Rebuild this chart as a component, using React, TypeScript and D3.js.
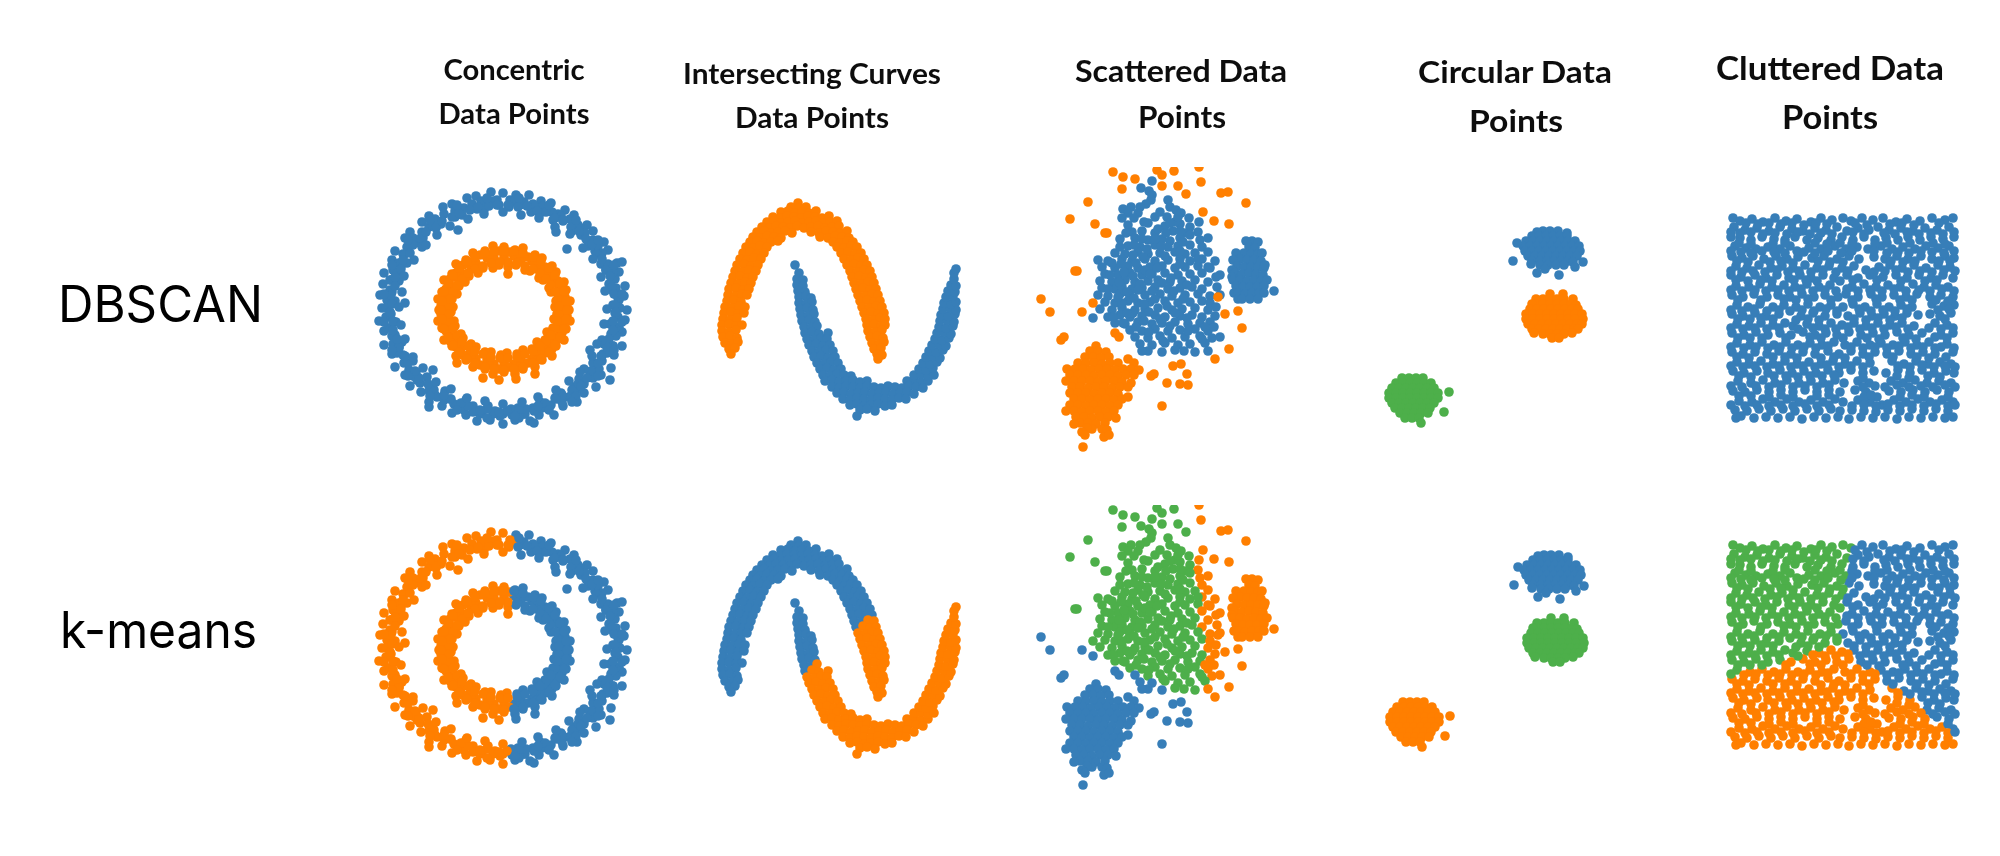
import * as d3 from "d3";

type Pt = [number, number];

const W = 2000;
const H = 856;
const BLUE = "#377eb8";
const ORANGE = "#ff7f00";
const GREEN = "#4daf4a";
const R = 4.8;

// values, each panel in its own units
const ringOuter: Pt[] = [
  [128,5],[141,7],[154,7],[166,13],[176,15],[190,22],[199,27],[212,37],[218,43],[229,54],[233,62],[242,75],[244,84],[250,98],[249,108],[252,122],
  [250,132],[247,144],[247,158],[239,167],[236,180],[226,187],[221,199],[209,205],[202,214],[188,218],[179,227],[164,227],[155,233],[140,232],[128,236],
  [115,232],[102,233],[91,227],[77,225],[67,218],[54,214],[46,204],[35,198],[30,187],[20,179],[17,166],[9,157],[9,143],[4,133],[7,120],[5,107],[8,96],[9,85],[17,72],
  [20,63],[30,50],[35,44],[47,34],[54,28],[68,19],[77,16],[92,10],[101,8],[116,4],
  [134,19],[145,17],[156,24],[167,24],[178,32],[188,33],[197,43],[206,47],[213,58],[220,63],[226,76],[231,82],[234,96],[237,102],[238,117],
  [240,125],[235,136],[236,146],[229,156],[228,166],[218,175],[215,184],[204,191],[199,199],[186,205],[180,210],[165,214],[158,220],[143,220],[136,221],
  [120,223],[113,218],[98,218],[91,212],[76,211],[70,203],[57,199],[52,189],[41,185],[38,173],[28,167],[27,154],[20,147],[21,134],[16,126],
  [20,113],[17,104],[24,93],[23,84],[32,75],[28,66],[45,55],[48,50],[61,40],[66,36],[80,29],[87,27],[102,21],[109,22],[124,17],
  [122,12],[135,12],[149,14],[161,19],[183,26],[205,40],[224,65],[237,88],[243,110],[244,140],[238,158],[222,183],[194,209],[172,220],[150,226],[125,228],[105,226],
  [84,219],[60,207],[42,192],[24,160],[13,140],[12,112],[16,92],[27,76],[38,55],[58,35],[84,20],[106,13],
  [138,14],[158,16],[177,24],[195,31],[210,45],[223,58],[233,76],[240,91],[244,112],[243,129],[241,148],[232,165],[224,181],[209,196],[196,208],[176,217],[159,223],[137,227],[118,226],[98,224],
  [79,216],[62,209],[45,195],[34,182],[22,165],[17,148],[11,129],[13,111],[15,92],[24,75],[32,59],[47,44],[60,31],[80,23],[97,16],[119,13],
  [148,16],[168,18],[186,28],[203,37],[218,52],[227,65],[238,84],[241,100],[245,120],[241,139],[238,158],[227,173],[218,190],[202,201],[187,214],[167,220],[149,226],[128,226],[107,224],[89,222],
  [69,212],[54,203],[38,188],[29,175],[18,156],[15,140],[11,120],[15,102],[18,82],[29,67],[38,50],[54,39],[69,26],[89,20],[107,14],
  [133,17],[143,19],[152,18],[162,23],[171,24],[180,30],[188,32],[196,39],[204,43],[211,51],[217,56],[222,66],[227,71],[231,82],[235,88],[237,99],[239,106],[240,117],
  [241,124],[238,133],[238,142],[234,151],[232,159],[226,168],[223,175],[216,183],[212,190],[203,196],[197,202],[187,207],[181,211],[170,215],[163,218],[151,221],[144,222],[132,223],
  [124,224],[112,221],[105,222],[93,218],[86,215],[75,211],[69,207],[59,202],[53,196],[44,190],[40,183],[33,175],[30,168],[24,159],[22,151],[18,142],[18,133],[15,124],
  [17,116],[16,107],[20,98],[20,89],[26,81],[28,72],[35,65],[38,57],[46,50],[51,44],[61,38],[67,33],[77,29],[84,25],[95,22],[103,19],[114,18],[122,17],
  [128,24],[146,27],[164,30],[180,39],[195,46],[208,60],[218,71],[226,89],[230,103],[232,121],[229,136],[227,152],[217,168],[209,181],[194,193],[181,202],[163,209],[147,214],
  [128,216],[110,213],[92,210],[76,201],[61,194],[48,180],[38,169],[30,151],[26,137],[24,119],[27,104],[29,88],[39,72],[47,59],[62,47],[75,38],[93,31],[109,26],
  [144,10],[174,17],[201,32],[223,52],[239,77],[247,106],[247,134],[239,162],[223,188],[201,208],[174,222],[144,230],[112,230],[82,222],[55,208],[33,188],[17,162],[9,134],[9,106],[17,77],[33,52],[55,32],[82,17],[112,10],
  [192,61],[181,44],[58,182],[205,184],[215,162],[247,74],[235,192],[30,115],[51,57],[83,42],[54,219],[159,235],[206,198],[222,156],[140,228],[197,214],
];

const ringInner: Pt[] = [
  [129,59],[140,62],[148,60],[160,67],[167,70],[177,78],[181,84],[189,94],[191,102],[195,113],[194,122],[195,133],[191,141],[189,152],[181,158],[177,168],[167,172],[160,179],[148,181],[140,186],[129,184],
  [118,186],[110,181],[98,179],[91,172],[81,168],[77,158],[69,152],[67,140],[63,133],[64,122],[63,111],[67,104],[69,92],[77,86],[81,76],[91,72],[98,65],[110,63],[118,58],
  [133,79],[141,77],[150,82],[155,83],[164,90],[168,92],[174,100],[176,104],[181,113],[180,119],[182,126],[179,131],[178,140],[172,144],[170,152],[162,154],[157,161],[148,162],[142,166],[132,165],
  [126,167],[116,164],[110,164],[101,159],[96,156],[88,150],[86,146],[80,138],[79,133],[76,124],[78,119],[77,111],[82,106],[84,98],[90,94],[94,88],[103,85],[108,80],[118,80],[124,77],
  [129,69],[139,68],[146,72],[157,73],[163,79],[172,83],[176,91],[183,96],[184,106],[188,113],[187,122],[188,131],[184,138],[183,148],[176,153],[172,161],[163,165],[157,171],[146,172],[139,176],[129,175],
  [119,176],[112,172],[101,171],[95,165],[86,161],[82,153],[75,148],[74,138],[70,131],[71,122],[70,115],[74,104],[75,98],[82,89],[86,85],[95,77],[101,75],[112,70],[119,70],
  [134,64],[144,65],[153,69],[162,72],[170,79],[177,83],[183,93],[187,99],[190,109],[192,116],[192,128],[190,135],[187,145],[183,151],[177,161],[170,165],[162,172],[153,175],[144,179],[134,179],
  [124,181],[114,177],[105,177],[96,170],[88,167],[81,159],[75,153],[71,143],[68,137],[66,126],[66,118],[68,107],[71,101],[75,91],[81,85],[88,77],[96,74],[105,67],[114,67],[124,63],
  [133,74],[150,78],[165,85],[176,97],[183,111],[184,126],[180,140],[171,153],[158,163],[142,169],[125,170],[108,166],[93,158],[82,147],[75,133],[74,118],[78,104],[87,91],[100,81],[116,75],
  [142,75],[158,81],[171,91],[180,104],[184,118],[182,133],[176,147],[165,158],[150,166],[133,170],[116,169],[100,163],[87,153],[78,140],[74,126],[75,111],[82,97],[93,85],[108,78],[125,74],
  [139,63],[148,65],[158,69],[166,73],[174,80],[180,87],[185,95],[189,103],[191,113],[192,122],[191,131],[189,141],[185,149],[180,157],[174,164],[166,171],[158,175],[148,179],[139,181],[129,182],
  [119,181],[110,179],[100,175],[92,171],[84,164],[78,157],[73,149],[69,141],[67,131],[66,122],[67,113],[69,103],[73,95],[78,87],[84,80],[92,73],[100,69],[110,65],[119,63],[129,63],
  [133,86],[124,192],[108,190],[141,191],[82,175],[160,186],
];

const moonUpper: Pt[] = [
  [83,4],[76,8],[84,9],[91,8],[66,13],[73,12],[80,14],[87,13],[94,14],[101,12],[58,18],[65,19],[72,17],[79,18],[86,19],[93,17],[100,18],[107,19],[114,17],
  [52,23],[59,22],[66,24],[73,23],[80,22],[87,24],[94,23],[101,22],[108,24],[115,23],[122,22],[47,28],[54,29],[61,27],[68,28],[75,29],[82,27],[89,29],[96,28],[103,27],[110,29],[117,28],[124,27],
  [42,33],[49,32],[56,34],[63,33],[70,32],[77,34],[96,33],[104,34],[111,32],[118,33],[125,34],[132,32],[38,38],[45,39],[52,37],[59,38],[66,39],[105,38],[113,39],[120,37],[127,38],[134,39],
  [35,43],[42,42],[49,44],[56,43],[63,42],[118,43],[125,44],[132,42],[138,43],[31,48],[38,49],[45,47],[52,48],[122,48],[129,49],[136,47],[142,48],[28,54],[35,53],[42,55],[49,54],[126,54],[133,53],[140,55],[146,54],
  [25,60],[32,61],[39,59],[46,60],[129,60],[136,61],[143,59],[149,60],[22,66],[29,65],[36,67],[43,66],[132,66],[139,65],[146,67],[152,66],[20,72],[27,73],[34,71],[41,72],[135,72],[142,73],[149,71],[155,72],
  [18,78],[25,77],[32,79],[38,78],[137,78],[144,77],[151,79],[157,78],[16,84],[23,85],[30,83],[36,84],[139,84],[146,85],[153,83],[159,84],[14,90],[21,89],[28,91],[34,90],[141,90],[148,89],[155,91],[161,90],
  [13,96],[20,97],[27,95],[32,96],[143,96],[150,97],[157,95],[163,96],[12,102],[19,101],[26,103],[145,102],[152,101],[159,103],[165,102],[10,108],[17,109],[24,107],[30,108],[147,108],[154,109],[161,107],[167,108],
  [9,114],[16,113],[23,115],[29,114],[149,114],[156,113],[163,115],[169,114],[8,120],[15,121],[22,119],[151,120],[158,121],[165,119],[170,120],[7,126],[14,125],[21,127],[27,126],[152,126],[159,125],[166,127],[170,126],
  [7,132],[14,133],[21,131],[153,132],[160,133],[167,131],[8,138],[15,137],[22,139],[155,138],[162,137],[168,139],[10,144],[17,145],[23,143],[157,144],[164,145],[169,143],[14,150],[20,149],[159,150],[166,149],[16,155],[162,155],[167,156],[163,160],
];

const moonLower: Pt[] = [
  [80,66],[84,74],[82,80],[88,81],[82,86],[88,87],[83,92],[90,93],[84,98],[91,97],[96,99],[84,104],[91,105],[97,103],[85,110],[92,109],[98,111],[86,116],[93,117],[99,115],[87,122],[94,121],[100,123],
  [89,128],[96,129],[102,127],[90,134],[97,133],[104,135],[113,134],[92,140],[99,141],[106,139],[112,140],[94,146],[101,145],[108,147],[115,146],[97,152],[104,153],[111,151],[118,152],
  [99,158],[106,157],[113,159],[120,158],[102,164],[109,165],[116,163],[123,164],[105,170],[112,169],[119,171],[126,170],[108,176],[115,177],[122,175],[129,176],[136,177],
  [110,182],[117,181],[124,183],[131,182],[138,181],[145,183],[152,182],[192,182],[199,181],[206,183],[213,182],
  [117,188],[124,189],[131,187],[138,188],[145,189],[152,187],[159,188],[166,189],[173,187],[180,188],[187,189],[194,187],[201,188],[208,189],
  [122,194],[129,193],[136,195],[143,194],[150,193],[157,195],[164,194],[171,193],[178,195],[185,194],[192,193],[199,195],
  [128,200],[135,201],[142,199],[149,200],[156,201],[163,199],[170,200],[177,201],[184,199],[191,200],[135,206],[142,205],[149,207],[156,206],[163,205],[170,207],[177,206],[145,211],[152,210],[160,212],[142,217],
  [199,176],[206,175],[213,177],[219,176],[204,170],[211,171],[218,169],[208,164],[215,165],[222,163],[211,158],[218,157],[225,159],[214,152],[221,153],[228,151],[217,146],[224,145],[231,147],
  [220,140],[227,141],[234,139],[222,134],[229,133],[236,135],[224,128],[231,129],[238,127],[225,122],[232,121],[239,123],[226,116],[233,117],[240,115],[228,110],[235,109],[241,111],
  [229,104],[236,105],[241,103],[231,98],[238,97],[233,92],[240,93],[236,86],[241,87],[239,80],[239,74],[241,70],
];

const scatterSparse: Pt[] = [
  [122,14],[111,21],[119,24],[122,28],[121,33],[116,37],[110,40],[101,40],[93,42],[98,46],[108,46],[92,51],[104,51],[138,33],[140,40],[146,43],[137,50],[151,46],[159,51],[169,55],
  [98,58],[118,56],[135,59],[150,57],[160,60],[102,65],[112,64],[125,66],[143,64],[155,66],[168,65],
  [90,72],[105,71],[118,73],[132,72],[140,74],[150,71],[170,73],[178,71],[98,79],[110,80],[125,78],[138,80],[148,79],[160,78],[172,80],
  [85,86],[95,87],[108,85],[118,87],[130,86],[145,85],[155,87],[165,86],[178,85],[68,93],[78,94],[92,92],[102,94],[115,92],[125,94],[138,93],[150,92],[160,94],[172,92],[185,94],
  [72,100],[85,101],[98,99],[108,101],[120,100],[132,99],[145,101],[155,100],[168,99],[180,101],[75,107],[88,108],[100,106],[112,108],[122,107],[135,106],[148,108],[160,107],[172,106],[190,108],
  [70,114],[82,115],[95,113],[105,115],[118,114],[128,113],[140,115],[152,114],[165,113],[178,115],[72,121],[85,122],[92,120],[102,122],[112,121],[125,120],[138,122],[150,121],[162,120],[172,122],[187,120],
  [68,128],[78,129],[90,127],[100,129],[115,128],[130,127],[142,129],[155,128],[168,127],[180,129],[190,128],[75,135],[85,136],[98,134],[108,136],[120,135],[135,134],[148,136],[160,135],[172,134],
  [70,142],[82,143],[92,141],[105,143],[115,142],[128,141],[142,143],[152,142],[165,141],[178,143],[63,151],[78,150],[90,148],[100,150],[112,149],[125,148],[135,150],[150,149],[162,148],[172,150],[185,149],
  [85,156],[95,157],[108,155],[122,157],[132,156],[145,155],[158,157],[170,156],[180,155],[100,163],[112,164],[125,162],[138,164],[150,163],[165,162],[178,164],
  [105,170],[118,171],[130,169],[142,171],[155,170],[170,169],[182,171],[190,170],[110,177],[122,178],[135,176],[148,178],[160,177],[175,176],[118,184],[132,185],[145,183],[165,185],[178,184],
  [104,78],[131,79],[153,75],[113,90],[135,89],[91,97],[106,96],[127,101],[150,97],[115,103],[94,105],[141,111],[103,109],[157,118],[120,107],[132,116],[110,117],[89,115],[97,125],[122,124],[144,124],[108,123],
  [104,131],[125,132],[153,132],[92,136],[137,139],[114,137],[103,146],[119,145],[145,146],[97,146],[130,152],[114,154],[157,151],[140,159],[106,160],[158,164],[119,165],[175,160],[133,174],[112,184],[154,184],
  [125,50],[130,45],[114,55],[145,55],[128,62],[136,66],[148,50],[96,66],[112,72],[125,72],[160,68],[150,64],[140,56],[90,80],[117,82],[103,88],[150,84],[168,92],[178,100],[186,110],
  [80,108],[82,96],[78,122],[88,130],[83,150],[93,156],[180,136],[186,140],[184,160],[172,172],
];

const scatterCompact: Pt[] = [
  [222,74],[216,74],[228,75],[219,80],[225,81],[214,86],[221,87],[228,87],[206,86],[232,86],[210,92],[217,93],[224,93],[231,94],[203,93],[207,99],[214,100],[221,100],[228,100],[234,101],[235,98],[202,103],[205,106],[212,107],[219,106],[226,107],[233,108],
  [202,110],[203,113],[210,113],[217,114],[224,113],[231,114],[237,113],[206,119],[213,120],[220,120],[227,120],[234,119],[204,126],[208,126],[215,127],[222,126],[229,126],[234,126],[208,132],[212,132],[220,132],[228,132],[244,124],
];

const scatterDense: Pt[] = [
  [66,179],[60,184],[68,184],[76,185],[55,190],[63,190],[71,191],[79,190],[48,196],[56,196],[64,196],[72,197],[80,196],[88,196],[98,192],[104,196],
  [37,202],[45,202],[53,202],[61,203],[69,202],[77,202],[85,203],[93,202],[101,202],[109,203],[40,208],[48,208],[56,208],[64,209],[72,208],[80,208],[88,209],[96,208],[104,208],
  [36,214],[44,214],[52,214],[60,214],[68,215],[76,214],[84,214],[92,215],[101,216],[42,220],[50,220],[58,221],[66,220],[74,220],[82,221],[90,220],[98,220],
  [40,226],[48,226],[56,226],[64,227],[72,226],[80,226],[88,227],[98,230],[44,232],[52,232],[60,233],[68,232],[76,232],[84,233],[92,232],
  [40,238],[48,238],[56,239],[64,238],[72,238],[80,239],[88,238],[36,244],[44,244],[52,245],[60,244],[68,244],[76,245],[84,244],[46,250],[54,250],[62,251],[70,250],[78,250],[86,251],
  [50,256],[58,256],[66,257],[75,256],[44,257],[62,262],[72,262],[57,261],[77,263],[52,265],[74,270],[55,268],[79,268],[53,280],
];

const scatterNoise: Pt[] = [
  [83,5],[93,10],[105,12],[127,3],[132,8],[144,4],[169,0],[132,19],[148,19],[92,22],[156,27],[171,15],[191,26],[198,25],[216,36],[58,35],[173,45],[40,52],[65,57],[184,54],[199,57],[77,66],[75,66],
  [45,104],[47,104],[11,132],[20,145],[52,145],[63,136],[188,130],[208,144],[195,147],[212,161],[31,173],[34,170],[85,166],[89,170],[199,182],[185,192],[143,199],[151,197],[157,207],[124,207],[121,209],[137,216],[150,217],[158,218],[132,239],
];

const circleTop: Pt[] = [
  [163,11],[170,11],[178,11],[157,12],[187,13],[152,16],[159,16],[166,16],[173,16],[180,16],[187,16],[146,21],[153,21],[160,21],[167,21],[174,21],[181,21],[188,21],[195,21],
  [143,26],[150,26],[157,26],[164,26],[171,26],[178,26],[185,26],[192,26],[199,26],[145,31],[152,31],[159,31],[166,31],[173,31],[180,31],[187,31],[194,31],[200,31],
  [148,36],[155,36],[162,36],[169,36],[176,36],[183,36],[190,36],[197,36],[152,41],[160,41],[167,41],[174,41],[181,41],[188,41],[193,42],[151,44],[160,45],[168,45],[176,45],[184,45],
  [133,41],[137,23],[157,53],[179,55],[195,47],[203,42],[165,49],
];

const circleMiddle: Pt[] = [
  [170,74],[183,74],[163,79],[170,79],[177,79],[184,79],[156,79],[193,79],[156,84],[163,84],[170,84],[177,84],[184,84],[191,84],[196,85],[152,84],[150,89],[157,89],[164,89],[171,89],[178,89],[185,89],[192,89],[198,89],
  [146,94],[153,94],[160,94],[167,94],[174,94],[181,94],[188,94],[195,94],[202,94],[146,99],[153,99],[160,99],[167,99],[174,99],[181,99],[188,99],[195,99],[203,99],
  [148,104],[155,104],[162,104],[169,104],[176,104],[183,104],[190,104],[197,104],[202,104],[152,109],[159,109],[166,109],[173,109],[180,109],[187,109],[194,109],[198,109],[154,113],[192,113],[163,114],[170,114],[177,114],[184,114],[172,118],[179,118],
];

const circleBottom: Pt[] = [
  [22,158],[29,158],[36,158],[43,158],[16,163],[23,163],[30,163],[37,163],[44,163],[51,163],[12,168],[19,168],[26,168],[33,168],[40,168],[47,168],[54,168],
  [9,173],[16,173],[23,173],[30,173],[37,173],[44,173],[51,173],[58,173],[69,172],[9,178],[16,178],[23,178],[30,178],[37,178],[44,178],[51,178],[58,178],
  [12,183],[19,183],[26,183],[33,183],[40,183],[47,183],[54,183],[15,188],[22,188],[29,188],[36,188],[43,188],[50,188],[20,193],[27,193],[34,193],[41,193],[48,193],[64,192],[25,198],[32,198],[39,198],[41,203],
];

const cluttered: Pt[] = [
  [6,5],[13,8],[25,6],[36,9],[48,5],[59,8],[70,6],[84,9],[94,5],[105,7],[116,5],[124,8],[135,5],[146,7],[156,5],[169,9],[180,6],[193,8],[205,5],[218,7],[226,5],
  [7,14],[18,17],[30,15],[42,18],[53,14],[65,16],[76,18],[88,15],[99,17],[110,14],[120,18],[131,15],[142,17],[151,14],[162,17],[174,15],[186,18],[198,15],[210,17],[222,14],
  [4,24],[13,25],[24,27],[35,24],[47,26],[58,27],[68,24],[80,27],[91,25],[104,27],[115,24],[126,27],[137,24],[148,27],[159,25],[171,27],[181,24],[193,27],[204,24],[216,26],[227,24],
  [8,33],[19,35],[29,36],[41,34],[53,36],[63,33],[82,35],[94,36],[108,33],[119,36],[130,34],[141,36],[154,33],[165,36],[176,34],[188,36],[199,33],[211,35],[222,33],
  [5,43],[15,45],[26,43],[37,46],[49,43],[60,46],[71,44],[85,45],[97,43],[110,46],[122,43],[132,46],[147,44],[158,46],[170,43],[181,46],[194,43],[205,46],[218,43],[227,45],
  [9,53],[20,55],[32,52],[44,55],[55,53],[66,55],[78,52],[90,55],[102,53],[115,55],[127,53],[152,54],[163,52],[175,55],[187,52],[199,55],[211,52],[223,54],
  [4,62],[14,64],[28,62],[39,65],[50,62],[62,65],[73,62],[84,65],[96,62],[107,65],[120,62],[131,65],[143,62],[156,64],[169,62],[180,65],[192,62],[204,65],[216,62],[226,65],
  [9,73],[22,74],[33,71],[45,74],[57,72],[68,74],[80,71],[92,74],[103,72],[125,74],[137,71],[149,74],[161,72],[173,74],[186,71],[197,74],[209,72],[221,74],
  [5,82],[16,84],[27,81],[40,84],[51,82],[63,84],[75,81],[87,84],[98,82],[111,84],[119,81],[131,84],[144,81],[155,84],[167,82],[179,84],[190,81],[203,84],[214,82],[226,84],
  [10,92],[21,94],[33,91],[46,94],[57,92],[69,94],[81,91],[93,94],[104,92],[116,94],[126,91],[138,94],[150,91],[162,94],[174,92],[185,94],[205,91],[217,93],[227,92],
  [5,101],[16,103],[28,100],[39,103],[52,101],[74,103],[86,100],[98,103],[110,101],[121,103],[133,100],[145,103],[157,101],[168,103],[180,100],[191,102],[203,101],[213,103],[224,100],
  [10,111],[22,113],[34,110],[46,112],[58,110],[66,113],[80,111],[92,113],[104,110],[115,112],[127,110],[139,113],[151,110],[163,112],[175,110],[187,113],[208,110],[220,112],
  [5,120],[17,122],[29,119],[41,122],[53,120],[64,122],[76,119],[88,122],[99,120],[110,122],[122,119],[134,122],[146,120],[158,122],[170,119],[182,122],[195,120],[214,122],[226,120],
  [10,130],[23,132],[35,129],[47,132],[59,129],[71,132],[83,130],[95,132],[107,129],[118,132],[130,129],[143,132],[154,130],[166,132],[178,129],[190,132],[202,129],[220,131],
  [5,139],[16,141],[28,139],[40,141],[52,138],[64,141],[76,139],[88,141],[101,138],[112,141],[124,138],[136,141],[148,139],[160,141],[172,138],[184,141],[196,139],[208,141],[226,139],
  [10,149],[22,151],[34,148],[46,151],[58,148],[70,151],[82,149],[94,151],[106,148],[118,151],[130,148],[143,150],[165,148],[177,151],[189,148],[201,151],[213,149],[224,151],
  [6,158],[17,160],[30,158],[41,160],[53,157],[65,160],[77,158],[89,160],[101,157],[112,160],[124,157],[136,160],[147,158],[159,160],[171,157],[183,160],[195,157],[207,160],[219,158],[227,160],
  [11,168],[24,170],[36,167],[48,170],[60,167],[72,170],[84,168],[96,170],[108,167],[117,170],[131,168],[142,170],[164,168],[176,170],[188,167],[200,170],[212,168],[224,170],
  [6,178],[18,179],[30,177],[42,179],[54,177],[66,179],[78,177],[90,179],[102,177],[113,179],[128,177],[139,179],[150,184],[162,178],[174,179],[186,177],[198,179],[210,177],[222,179],
  [12,188],[25,189],[36,186],[48,189],[60,186],[72,189],[84,187],[96,189],[108,186],[116,189],[131,187],[143,189],[155,192],[167,187],[179,189],[191,186],[203,189],[215,187],[226,189],
  [8,197],[20,198],[32,196],[44,198],[56,196],[68,198],[80,196],[92,198],[104,196],[113,198],[125,197],[137,198],[149,199],[161,197],[173,198],[185,196],[197,198],[209,196],[221,198],
  [9,205],[14,203],[27,205],[39,204],[51,205],[63,204],[75,206],[87,204],[99,205],[111,204],[122,206],[134,204],[146,205],[158,204],[170,206],[182,204],[194,205],[206,204],[218,205],[226,204],
  [19,10],[31,11],[42,10],[54,11],[65,10],[77,12],[89,10],[100,11],[128,10],[140,12],[163,11],[175,10],[187,12],[212,10],
  [12,30],[24,31],[46,31],[58,30],[88,30],[100,31],[113,30],[125,31],[148,31],[160,30],[183,30],[206,30],[218,31],
  [10,48],[21,49],[43,49],[54,48],[66,50],[91,48],[103,49],[116,49],[164,48],[176,49],[188,48],[212,48],[223,48],
  [9,67],[21,68],[34,67],[45,68],[67,67],[79,67],[90,68],[113,68],[126,67],[150,67],[174,68],[198,68],[210,67],
  [11,87],[34,87],[57,86],[69,87],[81,86],[104,87],[125,87],[149,86],[173,87],[185,87],[209,87],[221,88],
  [11,106],[23,106],[34,105],[46,106],[69,107],[81,106],[92,107],[127,106],[139,107],[151,105],[163,107],[175,105],[218,106],
  [11,125],[23,125],[35,125],[59,125],[83,124],[94,125],[116,125],[140,125],[152,126],[176,125],[189,126],[208,124],[220,125],
  [10,144],[22,145],[46,144],[58,144],[70,145],[94,145],[107,144],[118,145],[142,144],[166,144],[190,144],[202,145],[219,144],
  [12,163],[24,164],[47,163],[59,163],[71,164],[83,163],[95,163],[107,162],[136,165],[170,163],[182,165],[201,163],[213,164],
  [12,183],[24,183],[42,184],[54,182],[66,184],[90,183],[102,182],[137,184],[144,182],[173,184],[185,182],[197,184],[221,184],
  [4,19],[13,20],[24,19],[36,21],[48,20],[60,21],[71,19],[83,21],[94,20],[105,21],[126,19],[137,21],[157,20],[168,21],[180,19],[192,21],[204,20],[216,21],[227,19],
  [4,38],[14,39],[24,40],[35,38],[47,39],[58,40],[70,38],[77,39],[88,40],[101,38],[114,40],[125,38],[147,38],[160,40],[171,39],[182,40],[194,38],[205,39],[217,40],[227,38],
  [4,58],[15,59],[26,58],[38,59],[50,57],[61,59],[72,58],[84,59],[96,57],[109,59],[121,58],[139,57],[147,59],[158,58],[169,57],[181,59],[193,58],[205,59],[217,57],[228,58],
  [4,77],[15,78],[28,77],[39,78],[51,77],[62,78],[74,76],[86,78],[98,77],[109,78],[120,76],[131,78],[143,77],[155,78],[167,76],[179,78],[192,77],[203,78],[215,76],[227,78],
  [4,97],[15,98],[27,96],[40,98],[52,97],[63,98],[75,97],[87,98],[99,96],[110,98],[132,96],[144,98],[156,97],[168,98],[180,96],[211,97],[222,96],
  [4,115],[16,116],[28,115],[40,116],[52,115],[71,116],[86,115],[98,116],[109,116],[121,114],[133,116],[145,115],[157,116],[169,114],[181,116],[202,115],[214,116],[226,115],
  [4,134],[17,135],[29,134],[41,135],[53,134],[65,135],[77,134],[89,135],[101,133],[124,134],[136,135],[148,134],[160,135],[172,133],[184,135],[196,134],[208,135],[214,134],[227,135],
  [4,153],[16,154],[28,153],[40,154],[52,153],[64,154],[76,153],[88,154],[100,152],[112,154],[124,153],[136,154],[171,153],[183,154],[195,152],[207,154],[218,153],[228,154],
  [4,173],[15,174],[29,173],[42,174],[54,172],[66,174],[78,173],[90,174],[102,172],[136,174],[148,173],[158,174],[170,172],[182,174],[194,173],[206,174],[218,172],[228,174],
  [4,192],[18,193],[30,192],[42,193],[54,192],[66,193],[78,191],[90,193],[102,192],[125,193],[137,192],[149,193],[161,191],[173,193],[185,192],[197,193],[209,191],[221,193],[228,192],
];

const rowLabels = ["DBSCAN", "k-means"];

const titles: { text: string; x: number; y: number; width: number; size: number }[][] = [
  [{ text: "Concentric", x: 514, y: 80, width: 141, size: 28 }, { text: "Data Points", x: 514, y: 124, width: 151, size: 28 }],
  [{ text: "Intersecting Curves", x: 812, y: 84, width: 258, size: 28 }, { text: "Data Points", x: 812, y: 128, width: 154, size: 28 }],
  [{ text: "Scattered Data", x: 1181, y: 82, width: 212, size: 30 }, { text: "Points", x: 1182, y: 128, width: 88, size: 30 }],
  [{ text: "Circular Data", x: 1515, y: 83, width: 194, size: 31 }, { text: "Points", x: 1516, y: 132, width: 94, size: 31 }],
  [{ text: "Cluttered Data", x: 1830, y: 80, width: 228, size: 32 }, { text: "Points", x: 1830, y: 129, width: 96, size: 32 }],
];

interface Cluster {
  points: Pt[];
  color: string;
}

interface Panel {
  width: number;
  height: number;
  origins: [Pt, Pt];
  dbscan: Cluster[];
  // row two: every point takes the colour of its nearest centre
  centres: Pt[];
  centreColors: string[];
  clip?: boolean;
}

const panels: Panel[] = [
  {
    width: 256,
    height: 240,
    origins: [[375, 188], [375, 528]],
    dbscan: [{ points: ringOuter, color: BLUE }, { points: ringInner, color: ORANGE }],
    centres: [[60, 118], [215, 122]],
    centreColors: [ORANGE, BLUE],
  },
  {
    width: 246,
    height: 220,
    origins: [[715, 199], [715, 537]],
    dbscan: [{ points: moonUpper, color: ORANGE }, { points: moonLower, color: BLUE }],
    centres: [[77.5, 52.5], [167.5, 162.5]],
    centreColors: [BLUE, ORANGE],
  },
  {
    width: 250,
    height: 290,
    origins: [[1030, 167], [1030, 505]],
    dbscan: [
      { points: scatterSparse, color: BLUE },
      { points: scatterCompact, color: BLUE },
      { points: scatterDense, color: ORANGE },
      { points: scatterNoise, color: ORANGE },
    ],
    centres: [[110, 90], [227, 81], [49, 218]],
    centreColors: [GREEN, ORANGE, BLUE],
    clip: true,
  },
  {
    width: 210,
    height: 210,
    origins: [[1380, 220], [1381, 544]],
    dbscan: [
      { points: circleTop, color: BLUE },
      { points: circleMiddle, color: ORANGE },
      { points: circleBottom, color: GREEN },
    ],
    centres: [[171, 27], [174, 95], [37, 175]],
    centreColors: [BLUE, GREEN, ORANGE],
  },
  {
    width: 231,
    height: 210,
    origins: [[1727, 213], [1727, 540]],
    dbscan: [{ points: cluttered, color: BLUE }],
    centres: [[55, 50], [179, 69], [95, 182]],
    centreColors: [GREEN, BLUE, ORANGE],
  },
];

function nearestColor(p: Pt, panel: Panel) {
  const i = d3.leastIndex(panel.centres, (c) => (c[0] - p[0]) ** 2 + (c[1] - p[1]) ** 2) ?? 0;
  return panel.centreColors[i];
}

function PanelDots({ panel, row, id }: { panel: Panel; row: number; id: string }) {
  const [ox, oy] = panel.origins[row];
  const x = d3.scaleLinear().domain([0, panel.width]).range([ox, ox + panel.width]);
  const y = d3.scaleLinear().domain([0, panel.height]).range([oy, oy + panel.height]);
  const dots =
    row === 0
      ? panel.dbscan.flatMap((c) => c.points.map((p) => ({ p, color: c.color })))
      : panel.dbscan.flatMap((c) => c.points.map((p) => ({ p, color: nearestColor(p, panel) })));

  return (
    <g clipPath={panel.clip ? `url(#${id})` : undefined}>
      {panel.clip && (
        <clipPath id={id}>
          <rect x={ox - 20} y={oy} width={panel.width + 40} height={panel.height} />
        </clipPath>
      )}
      {dots.map((d, i) => (
        <circle key={i} cx={x(d.p[0])} cy={y(d.p[1])} r={R} fill={d.color} />
      ))}
    </g>
  );
}

export default function App() {
  return (
    <svg
      width={W}
      height={H}
      viewBox={`0 0 ${W} ${H}`}
      style={{ position: "absolute", left: 0, top: 0, background: "#fff" }}
    >
      <filter id="soft">
        <feGaussianBlur stdDeviation="0.6" />
      </filter>
      <g filter="url(#soft)">
        {titles.flat().map((t) => (
          <text
            key={t.text + t.x}
            x={t.x}
            y={t.y}
            textAnchor="middle"
            fontFamily="Lato, 'Open Sans', sans-serif"
            fontWeight={700}
            fontSize={t.size}
            textLength={t.width}
            lengthAdjust="spacingAndGlyphs"
            fill="#111"
          >
            {t.text}
          </text>
        ))}
      </g>
      <text x={58} y={322} fontFamily="Inter, sans-serif" fontWeight={400} fontSize={50} textLength={205} lengthAdjust="spacingAndGlyphs" fill="#000">
        {rowLabels[0]}
      </text>
      <text x={60} y={648} fontFamily="Inter, sans-serif" fontWeight={400} fontSize={50} textLength={197} lengthAdjust="spacingAndGlyphs" fill="#000">
        {rowLabels[1]}
      </text>
      {panels.map((panel, i) =>
        [0, 1].map((row) => <PanelDots key={`${i}-${row}`} panel={panel} row={row} id={`clip-${i}-${row}`} />)
      )}
    </svg>
  );
}
